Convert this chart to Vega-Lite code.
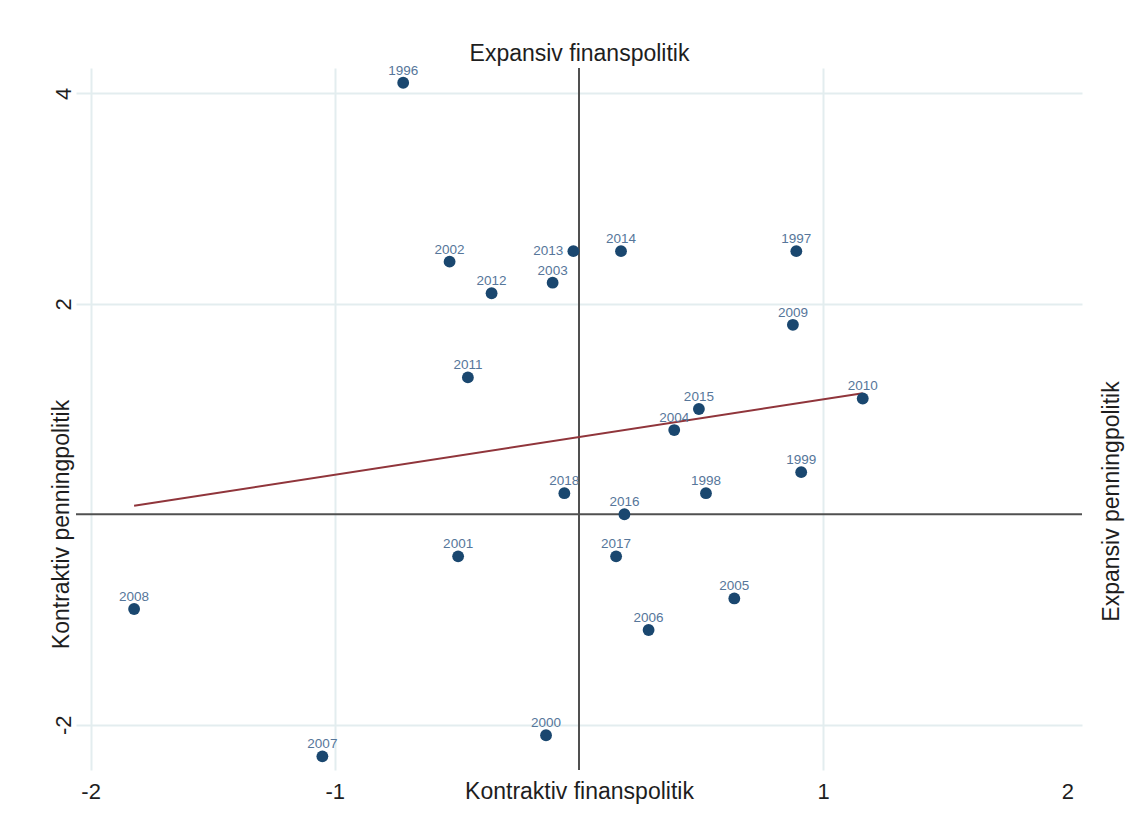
{
  "$schema": "https://vega.github.io/schema/vega-lite/v6.json",
  "width": 1006,
  "height": 702,
  "autosize": {"type": "none"},
  "padding": {"left": 76, "top": 68, "right": 49, "bottom": 58},
  "background": "white",
  "config": {
    "view": {"stroke": null},
    "font": "Liberation Sans",
    "axis": {"labelFont": "Liberation Sans", "titleFont": "Liberation Sans"}
  },
  "datasets": {
    "points": [
      {"year": "1996", "finans": -0.72, "penning": 4.1},
      {"year": "1997", "finans": 0.89, "penning": 2.5},
      {"year": "1998", "finans": 0.52, "penning": 0.2},
      {"year": "1999", "finans": 0.91, "penning": 0.4},
      {"year": "2000", "finans": -0.135, "penning": -2.1},
      {"year": "2001", "finans": -0.495, "penning": -0.4},
      {"year": "2002", "finans": -0.53, "penning": 2.4},
      {"year": "2003", "finans": -0.108, "penning": 2.2},
      {"year": "2004", "finans": 0.39, "penning": 0.8},
      {"year": "2005", "finans": 0.636, "penning": -0.8},
      {"year": "2006", "finans": 0.285, "penning": -1.1},
      {"year": "2007", "finans": -1.051, "penning": -2.3},
      {"year": "2008", "finans": -1.822, "penning": -0.9},
      {"year": "2009", "finans": 0.876, "penning": 1.8},
      {"year": "2010", "finans": 1.162, "penning": 1.1},
      {"year": "2011", "finans": -0.455, "penning": 1.3},
      {"year": "2012", "finans": -0.358, "penning": 2.1},
      {"year": "2013", "finans": -0.023, "penning": 2.5},
      {"year": "2014", "finans": 0.172, "penning": 2.5},
      {"year": "2015", "finans": 0.491, "penning": 1.0},
      {"year": "2016", "finans": 0.186, "penning": 0.0},
      {"year": "2017", "finans": 0.152, "penning": -0.4},
      {"year": "2018", "finans": -0.06, "penning": 0.2}
    ],
    "fit": [
      {"finans": -1.822, "fitted": 0.08},
      {"finans": 1.162, "fitted": 1.15}
    ],
    "origin": [{"zero": 0}]
  },
  "resolve": {"axis": {"x": "independent", "y": "independent"}},
  "layer": [
    {
      "data": {"name": "origin"},
      "mark": {"type": "rule", "color": "#505050", "strokeWidth": 2},
      "encoding": {
        "x": {"field": "zero", "type": "quantitative", "scale": {"domain": [-2.06, 2.06], "nice": false, "zero": false}, "axis": null}
      }
    },
    {
      "data": {"name": "origin"},
      "mark": {"type": "rule", "color": "#505050", "strokeWidth": 2},
      "encoding": {
        "y": {"field": "zero", "type": "quantitative", "scale": {"domain": [-2.43, 4.24], "nice": false, "zero": false}, "axis": null}
      }
    },
    {
      "data": {"name": "fit"},
      "mark": {"type": "line", "color": "#90353b", "strokeWidth": 2},
      "encoding": {
        "x": {"field": "finans", "type": "quantitative", "scale": {"domain": [-2.06, 2.06], "nice": false, "zero": false}, "axis": null},
        "y": {"field": "fitted", "type": "quantitative", "scale": {"domain": [-2.43, 4.24], "nice": false, "zero": false}, "axis": null}
      }
    },
    {
      "data": {"name": "points"},
      "mark": {"type": "circle", "color": "#1a476f", "opacity": 1, "size": 140},
      "encoding": {
        "x": {
          "field": "finans", "type": "quantitative",
          "scale": {"domain": [-2.06, 2.06], "nice": false, "zero": false},
          "axis": {
            "orient": "bottom", "values": [-2, -1, 1, 2],
            "labelExpr": "toString(datum.value)",
            "grid": true, "gridColor": "#e3edef", "gridWidth": 2,
            "gridOpacity": {"condition": {"test": "datum.value === 2", "value": 0}, "value": 1},
            "domain": false, "ticks": false, "tickSize": 0,
            "labelFontSize": 22, "labelColor": "#1e1e1e", "labelPadding": 28,
            "labelBaseline": "alphabetic", "labelAlign": "center",
            "title": "Kontraktiv finanspolitik", "titleFontSize": 23, "titleFontWeight": "normal",
            "titleColor": "#1e1e1e", "titleX": 503, "titleY": 28, "titleAlign": "center",
            "titleBaseline": "alphabetic", "titleAnchor": null
          }
        },
        "y": {
          "field": "penning", "type": "quantitative",
          "scale": {"domain": [-2.43, 4.24], "nice": false, "zero": false},
          "axis": {
            "orient": "left", "values": [-2, 2, 4],
            "labelExpr": "toString(datum.value)",
            "grid": true, "gridColor": "#e3edef", "gridWidth": 2,
            "domain": false, "ticks": false, "tickSize": 0,
            "labelFontSize": 22, "labelColor": "#1e1e1e", "labelPadding": 6,
            "labelAngle": -90, "labelAlign": "center", "labelBaseline": "alphabetic",
            "title": "Kontraktiv penningpolitik", "titleFontSize": 23, "titleFontWeight": "normal",
            "titleColor": "#1e1e1e", "titleAngle": -90, "titleX": -8, "titleY": 456,
            "titleAlign": "center", "titleBaseline": "alphabetic", "titleAnchor": null
          }
        }
      }
    },
    {
      "data": {"name": "points"},
      "transform": [{"filter": "datum.year !== '2013'"}],
      "mark": {"type": "text", "fontSize": 13.5, "color": "#56769a", "align": "center", "baseline": "alphabetic", "dy": -8},
      "encoding": {
        "x": {
          "field": "finans", "type": "quantitative",
          "scale": {"domain": [-2.06, 2.06], "nice": false, "zero": false},
          "axis": {
            "orient": "top", "labels": false, "ticks": false, "domain": false, "grid": false,
            "title": "Expansiv finanspolitik", "titleFontSize": 23, "titleFontWeight": "normal",
            "titleColor": "#1e1e1e", "titleX": 503, "titleY": -8, "titleAlign": "center",
            "titleBaseline": "alphabetic", "titleAnchor": null, "titleAngle": 0
          }
        },
        "y": {
          "field": "penning", "type": "quantitative",
          "scale": {"domain": [-2.43, 4.24], "nice": false, "zero": false},
          "axis": {
            "orient": "right", "labels": false, "ticks": false, "domain": false, "grid": false,
            "title": "Expansiv penningpolitik", "titleFontSize": 23, "titleFontWeight": "normal",
            "titleColor": "#1e1e1e", "titleAngle": -90, "titleX": 36, "titleY": 433,
            "titleAlign": "center", "titleBaseline": "alphabetic", "titleAnchor": null
          }
        },
        "text": {"field": "year", "type": "nominal"}
      }
    },
    {
      "data": {"name": "points"},
      "transform": [{"filter": "datum.year === '2013'"}],
      "mark": {"type": "text", "fontSize": 13.5, "color": "#56769a", "align": "right", "baseline": "middle", "dx": -10},
      "encoding": {
        "x": {"field": "finans", "type": "quantitative", "scale": {"domain": [-2.06, 2.06], "nice": false, "zero": false}, "axis": null},
        "y": {"field": "penning", "type": "quantitative", "scale": {"domain": [-2.43, 4.24], "nice": false, "zero": false}, "axis": null},
        "text": {"field": "year", "type": "nominal"}
      }
    }
  ]
}
